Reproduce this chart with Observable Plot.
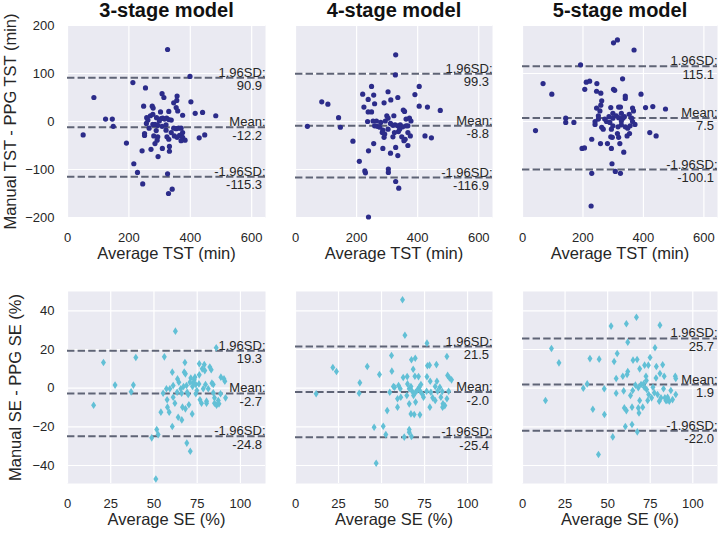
<!DOCTYPE html>
<html><head><meta charset="utf-8">
<script src="https://cdn.jsdelivr.net/npm/d3@7"></script>
<script src="https://cdn.jsdelivr.net/npm/@observablehq/plot@0.6"></script>
<style>
body{margin:0;background:#fff;}
#chart{position:relative;width:719px;height:533px;}
#chart > svg{position:absolute;}
#chart svg{font-family:"Liberation Sans",Arial,sans-serif;overflow:visible;background:transparent;color:#262626;}
</style></head><body><div id="chart"></div>
<script>
// ---------- data ----------
const models = ["3-stage model", "4-stage model", "5-stage model"];
const tstTicksX = [0, 200, 400, 600];
const tstTicksY = [-200, -100, 0, 100, 200];
const seTicksX = [0, 25, 50, 75, 100];
const seTicksY = [-40, -20, 0, 20, 40];

// [average TST, manual - PPG TST]
const tst3 = [[326,150],[399,94],[213,81],[254,70],[86,50],[308,58],[314,50],[357,53],[356,44],[346,39],[402,41],[248,32],[276,32],[279,28],[354,29],[359,22],[303,20],[330,21],[375,13],[416,17],[440,19],[483,12],[124,5],[146,5],[149,-10],[51,-28],[192,-45],[258,8],[262,3],[270,12],[290,8],[305,6],[310,7],[316,5],[323,7],[330,4],[338,3],[257,-4],[266,-14],[278,-6],[285,-6],[294,-8],[308,-10],[321,-7],[251,-25],[251,-29],[289,-19],[294,-32],[292,-39],[285,-46],[281,-30],[321,-18],[324,-32],[330,-37],[332,-52],[332,-62],[309,-56],[295,-73],[272,-58],[243,-61],[346,-14],[354,-15],[362,-14],[370,-14],[348,-30],[357,-33],[365,-29],[375,-33],[383,-39],[370,-40],[429,-34],[447,-28],[216,-88],[228,-106],[245,-130],[326,-109],[329,-150],[341,-141],[375,-23],[338,-23],[299,1],[278,15]];
const tst4 = [[328,139],[327,97],[86,41],[106,36],[141,8],[39,-10],[147,-12],[188,-41],[249,73],[220,57],[256,55],[238,46],[303,62],[312,45],[335,50],[259,37],[290,39],[224,30],[238,20],[249,20],[353,24],[357,21],[391,56],[405,73],[405,32],[432,30],[474,23],[322,12],[299,12],[236,0],[254,1],[265,1],[279,-2],[259,-9],[268,-10],[294,1],[303,7],[311,-4],[319,-8],[326,-7],[335,-9],[343,-7],[351,-11],[362,-9],[368,-9],[362,5],[373,7],[286,-18],[292,-26],[290,-33],[319,-32],[337,-21],[348,-32],[359,-37],[368,-50],[355,-40],[376,-30],[368,-23],[256,-46],[286,-56],[239,-61],[311,-66],[328,-54],[335,-71],[424,-30],[445,-34],[209,-83],[227,-103],[229,-107],[304,-99],[304,-106],[328,-125],[338,-139],[239,-199],[276,-12],[284,-23],[303,-16],[324,-23],[341,-16],[378,1]];
const tst5 = [[301,164],[314,170],[369,149],[192,118],[68,79],[97,57],[211,82],[222,84],[246,79],[206,67],[245,63],[259,59],[301,67],[305,65],[331,89],[340,53],[340,48],[392,57],[407,29],[431,31],[473,26],[262,43],[259,34],[245,28],[256,22],[292,29],[318,30],[324,30],[364,28],[367,22],[299,17],[327,17],[353,15],[143,7],[143,-2],[170,-2],[251,12],[251,5],[272,5],[286,10],[299,7],[310,12],[318,8],[332,7],[337,10],[361,7],[364,0],[372,-6],[356,-9],[348,-14],[340,-11],[327,-7],[316,-11],[299,-9],[289,-2],[278,0],[262,-12],[240,-6],[267,-16],[294,-16],[43,-19],[229,-37],[281,-46],[292,-32],[297,-33],[318,-33],[314,-25],[346,-30],[354,-25],[258,-46],[197,-56],[205,-55],[294,-56],[322,-46],[335,-64],[421,-23],[442,-30],[296,-88],[229,-108],[307,-104],[324,-108],[227,-176],[240,0],[327,1]];

// [average SE, manual - PPG SE]
const se3 = [[62.4,29.5],[86,20.9],[20.8,13.3],[39.5,15.9],[56,16.2],[15.1,-8.8],[27.5,1.6],[38.1,1.6],[36.8,-1.9],[48.7,-25.7],[51.6,-21.4],[52.4,-24],[51.1,-47],[54,-12.4],[55.3,-2.6],[57.2,-0.3],[57.6,-6],[58.8,-12.4],[60.6,8.3],[61.1,1.4],[61.1,-4.7],[60.6,-19.8],[62.1,-7.8],[63.6,4.8],[64.4,3.1],[64,-15],[65.5,-0.3],[66.1,-16.4],[66.5,-9.8],[67.1,0.9],[67.5,8.3],[67.9,13.3],[68.2,7.4],[68.2,-10.7],[68.8,1.4],[69,-28.4],[69.2,-2.1],[69.8,-3.3],[70.2,-8.6],[71,-32.6],[71.3,5.3],[72.1,-13.3],[72.3,0.9],[72.7,2.6],[73.3,4.3],[73.7,5.7],[74.2,-2.9],[74.8,-1.2],[76,2.2],[76.2,6.9],[76.2,12.6],[76.6,-6],[77.5,-7.8],[77.9,10],[78.5,-0.3],[79.1,12.2],[79.4,9.1],[79.8,1.9],[80.4,-6.7],[80.4,-7.8],[81.4,-0.3],[82.3,10.9],[83.1,9.5],[83.5,2.6],[84.3,1.9],[84.3,-2.4],[85,-5],[85,-7.8],[86.2,-8.8],[87.2,-6.4],[87.6,-8.1],[88.5,-2.9],[88.7,5.7],[90.5,4.8],[91,3.6],[91.4,-5],[74.2,1.9],[70.8,3.1],[63.4,-2.1],[59.2,-0.3],[66,-2.6],[57.8,-9.8]];
const se4 = [[62.2,45.7],[63.6,27.4],[76.4,23.3],[55.8,16.9],[88,16.4],[21.7,10.7],[23.8,8.6],[41.7,11.2],[56,8.8],[48.8,7.1],[67.4,14.7],[69.6,15.5],[68.4,9.8],[62.6,5.5],[64.9,6],[76.7,11.6],[77.9,11.9],[81.9,12.2],[69.4,6.2],[71.5,6],[76.4,5.9],[78.3,3.6],[82.2,3.6],[88.4,6.6],[89.5,5.3],[90.7,4.3],[37.4,2.8],[37,-2.6],[12,-2.9],[56.9,0.9],[57.6,0.5],[54.8,-2.1],[59.9,1.4],[60.9,-0.3],[61.2,-4.7],[59.3,-9.8],[53.3,-11.6],[64.7,-3.8],[66.1,-0.3],[67.1,0.9],[67.8,-1.6],[68.6,-3.8],[69.8,-2.1],[70.9,-0.9],[71.9,0.5],[72.5,-1.6],[73.8,-3.3],[74.4,-4.7],[66.1,-8.1],[69.8,-7.2],[67.1,-13.3],[69,-13.6],[72.3,-13.8],[78.1,-9.8],[79.7,-5],[81.2,-6.4],[82.6,-1.6],[83.9,0.5],[84.5,-4.7],[85.3,-1.7],[85.7,-8.1],[86.8,-9],[88,-5.5],[89,-1.6],[85.5,-9.8],[45.7,-20.2],[51,-19.7],[52.5,-24],[63.2,-25.3],[66.1,-21.4],[66.1,-22.8],[67.4,-25],[46.9,-38.8],[59.3,-5.5],[76.2,-1.6],[78.7,-2.1],[81.2,0.9],[72.9,1.9],[65.1,2.2]];
const se5 = [[66.9,36.7],[61,33.3],[52,32.1],[80.7,32.6],[61.8,23.8],[17,20.5],[77.8,20.9],[21.4,13.1],[55.6,17.9],[39.6,15.3],[45,15],[53.8,13.8],[64.9,14.5],[67.3,14.8],[74.9,15.9],[68.8,10],[71.7,11.9],[73.9,11.9],[78.6,11.2],[82.3,12.1],[61.8,8.6],[61.4,7.1],[58.9,6.2],[55,5],[72.5,6.2],[78.4,5.3],[80.7,7.6],[83.2,6.2],[89.7,6.2],[90,5],[38,2.2],[35.7,0],[48,-0.3],[13.5,-6.4],[41.3,-10.9],[48.1,-13.6],[55,-2.6],[59.4,-1.4],[63.4,-3.8],[64.7,-1.2],[66.3,1.6],[68,0.2],[69.6,1.9],[71.1,2.2],[71.5,0.5],[72.9,-0.7],[74.1,-3.3],[75.8,-5],[76.6,0.5],[77.4,-2.4],[79.3,-3.3],[80.3,-6.7],[82.8,-0.3],[83.6,-5],[84.2,-6.4],[85.2,-4.7],[86.2,-6.7],[87.1,-1.2],[88.1,-5.9],[90,-3.3],[59.8,-10.2],[61,-11.6],[64.3,-9.8],[68,-10.2],[68.4,-12.8],[70.6,-9.8],[68.8,-6.4],[73.5,-6.4],[60.4,-19.8],[64.3,-18.8],[67.4,-22.6],[53,-25.2],[44.6,-34.3],[81.3,-5],[84.8,-6.4],[72.7,4]];

// Bland-Altman statistics printed in each panel
const tstMean  = [-12.2, -8.8, 7.5];
const tstUpper = [90.9, 99.3, 115.1];
const tstLower = [-115.3, -116.9, -100.1];
const seMean   = [-2.7, -2.0, 1.9];
const seUpper  = [19.3, 21.5, 25.7];
const seLower  = [-24.8, -25.4, -22.0];

// ---------- drawing ----------
const cols = [
  {left: 0,   width: 280, ml: 67, mr: 15},
  {left: 280, width: 227, ml: 15, mr: 15},
  {left: 507, width: 212, ml: 15, mr: 2}
];
const rows = [
  {top: 0,   height: 265, mt: 25, mb: 48},
  {top: 265, height: 268, mt: 26, mb: 50}
];
const thinDiamond = {
  draw(ctx) {
    ctx.moveTo(0, -3.8); ctx.lineTo(2.5, 0); ctx.lineTo(0, 3.8); ctx.lineTo(-2.5, 0); ctx.closePath();
  }
};
const lineColor = "#5f6476";

function panel(o) {
  const c = cols[o.col], r = rows[o.row];
  const ann = [
    {v: o.upper, a: "1.96SD:"},
    {v: o.mean, a: "Mean:"},
    {v: o.lower, a: "-1.96SD:"}
  ];
  const marks = [
    Plot.frame({fill: "#EAEAF2", stroke: null}),
    Plot.gridX(o.xTicks, {stroke: "#fff", strokeOpacity: 1, strokeWidth: 1.2}),
    Plot.gridY(o.yTicks, {stroke: "#fff", strokeOpacity: 1, strokeWidth: 1.2}),
    Plot.ruleY(ann, {y: "v", stroke: lineColor, strokeWidth: 2, strokeDasharray: "7.4,3.2"}),
    Plot.dot(o.data, {x: d => d[0], y: d => d[1], fill: o.color, stroke: null, r: o.r, symbol: o.symbol}),
    Plot.text(ann, {y: "v", text: "a", frameAnchor: "right", textAnchor: "end", lineAnchor: "bottom", dy: -1, fontSize: 13, fill: "#262626"}),
    Plot.text(ann, {y: "v", text: d => d.v.toFixed(1), frameAnchor: "right", textAnchor: "end", lineAnchor: "bottom", dx: -3.5, dy: 12.5, fontSize: 13, fill: "#262626"}),
    Plot.axisX(o.xTicks, {tickSize: 0, tickPadding: 15, fontSize: 13, label: null}),
    Plot.text([o.xLabel], {frameAnchor: "bottom", textAnchor: "middle", dy: 41, fontSize: 16.5, fill: "#262626"})
  ];
  if (o.col === 0) {
    marks.push(Plot.axisY(o.yTicks, {tickSize: 0, tickPadding: 13, fontSize: 13, label: null}));
    marks.push(Plot.text([o.yLabel], {frameAnchor: "left", textAnchor: "middle", rotate: -90, dx: o.row === 0 ? -57 : -52, fontSize: 16.5, fill: "#262626"}));
  }
  if (o.title) {
    marks.push(Plot.text([o.title], {frameAnchor: "top", textAnchor: "middle", lineAnchor: "bottom", dy: -9, fontSize: 20, fontWeight: "bold", fill: "#111"}));
  }
  const svg = Plot.plot({
    width: c.width, height: r.height,
    marginLeft: c.ml, marginRight: c.mr, marginTop: r.mt, marginBottom: r.mb,
    x: {domain: o.xDomain, axis: null},
    y: {domain: o.yDomain, axis: null},
    marks
  });
  svg.style.left = c.left + "px";
  svg.style.top = r.top + "px";
  document.getElementById("chart").appendChild(svg);
}

const tstData = [tst3, tst4, tst5];
const seData = [se3, se4, se5];
for (let i = 0; i < 3; i++) {
  panel({
    col: i, row: 0, data: tstData[i], title: models[i],
    mean: tstMean[i], upper: tstUpper[i], lower: tstLower[i],
    xDomain: [0, 645], yDomain: [-200, 200], xTicks: tstTicksX, yTicks: tstTicksY,
    color: "#2c2c8a", r: 2.6, symbol: "circle",
    xLabel: "Average TST (min)", yLabel: "Manual TST - PPG TST (min)"
  });
  panel({
    col: i, row: 1, data: seData[i], title: null,
    mean: seMean[i], upper: seUpper[i], lower: seLower[i],
    xDomain: [0, 114.5], yDomain: [-49.3, 50], xTicks: seTicksX, yTicks: seTicksY,
    color: "#62c0d6", r: 3, symbol: thinDiamond,
    xLabel: "Average SE (%)", yLabel: "Manual SE - PPG SE (%)"
  });
}
</script></body></html>
